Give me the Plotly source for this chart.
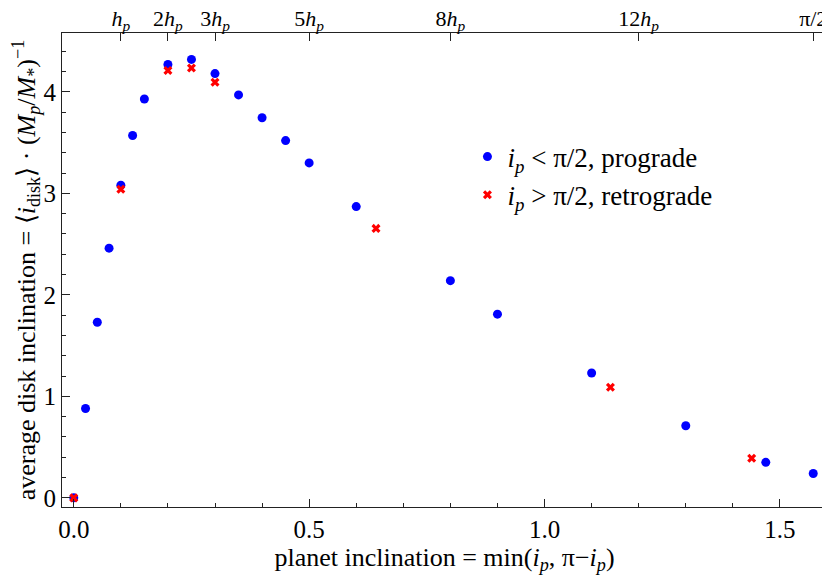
import math
import plotly.graph_objects as go

# Prograde runs (i_p < pi/2)
pro_x = [0.0, 0.025, 0.05, 0.075, 0.1, 0.125, 0.15, 0.2, 0.25, 0.3, 0.35, 0.4, 0.45, 0.5,
         0.6, 0.8, 0.9, 1.1, 1.3, 1.47, math.pi / 2]
pro_y = [0.0, 0.88, 1.73, 2.46, 3.08, 3.57, 3.93, 4.27, 4.32, 4.18, 3.97, 3.745, 3.52, 3.30,
         2.87, 2.14, 1.81, 1.23, 0.71, 0.35, 0.24]

# Retrograde runs (i_p > pi/2)
ret_x = [0.0, 0.1, 0.2, 0.25, 0.3, 0.642, 1.14, 1.44]
ret_y = [0.0, 3.04, 4.21, 4.235, 4.095, 2.655, 1.09, 0.39]

# Top axis ticks (multiples of h_p)
top_vals = [0.1, 0.2, 0.3, 0.5, 0.8, 1.2, math.pi / 2]
top_text = ["<i>h<sub>p</sub></i>", "2<i>h<sub>p</sub></i>", "3<i>h<sub>p</sub></i>",
            "5<i>h<sub>p</sub></i>", "8<i>h<sub>p</sub></i>", "12<i>h<sub>p</sub></i>", "π/2"]

bottom_vals = [0.0, 0.5, 1.0, 1.5]
bottom_text = ["0.0", "0.5", "1.0", "1.5"]

FONT = "Liberation Serif"
XR = [-0.025, 1.6]
YR = [-0.09, 4.58]

fig = go.Figure()
fig.add_trace(go.Scatter(
    x=pro_x, y=pro_y, mode="markers", name="<i>i<sub>p</sub></i> < π/2, prograde",
    marker=dict(symbol="circle", size=9, color="rgb(0,0,255)", line=dict(width=0)),
    legendgroup="a"))
fig.add_trace(go.Scatter(
    x=ret_x, y=ret_y, mode="markers", name="<i>i<sub>p</sub></i> > π/2, retrograde",
    marker=dict(symbol="x", size=8, color="rgb(255,0,0)", line=dict(width=0)),
    legendgroup="b"))
# carrier for the top axis
fig.add_trace(go.Scatter(x=top_vals, y=[None] * len(top_vals), xaxis="x2",
                         mode="markers", showlegend=False, hoverinfo="skip"))

axis_common = dict(showgrid=False, zeroline=False, showline=True, linecolor="#222",
                   linewidth=1, ticks="inside", tickcolor="#222", tickwidth=1, ticklen=8,
                   automargin=False)

fig.update_layout(
    width=822, height=569,
    margin=dict(l=54, r=3, t=25, b=70, autoexpand=False),
    paper_bgcolor="white", plot_bgcolor="white",
    font=dict(family=FONT, size=25, color="black"),
    xaxis=dict(range=XR, tickvals=bottom_vals, ticktext=bottom_text,
               tickfont=dict(family=FONT, size=25, color="black"),
               minor=dict(dtick=0.1, tick0=0, ticks="inside", ticklen=4, tickcolor="#222"),
               title=dict(text="planet inclination = min(<i>i<sub>p</sub></i>, π−<i>i<sub>p</sub></i>)",
                          font=dict(family=FONT, size=26), standoff=4),
               **axis_common),
    xaxis2=dict(range=XR, overlaying="x", side="top", tickvals=top_vals, ticktext=top_text,
                tickfont=dict(family=FONT, size=22, color="black"), ticklabelstandoff=-3,
                **axis_common),
    yaxis=dict(range=YR, tick0=0, dtick=1, mirror=True,
               tickfont=dict(family=FONT, size=25, color="black"),
               minor=dict(dtick=0.2, tick0=0, ticks="inside", ticklen=4, tickcolor="#222"),
               title=dict(text="average disk inclination = ⟨<i>i</i><sub>disk</sub>⟩ · (<i>M<sub>p</sub></i>/<i>M</i><sub>*</sub>)<sup>−1</sup>",
                          font=dict(family=FONT, size=26), standoff=8),
               **axis_common),
    legend=dict(x=0.53, y=0.79, xanchor="left", yanchor="top", bgcolor="rgba(0,0,0,0)",
                font=dict(family=FONT, size=27), tracegroupgap=0, itemwidth=30),
    showlegend=True,
)

fig.write_html("out.html")
